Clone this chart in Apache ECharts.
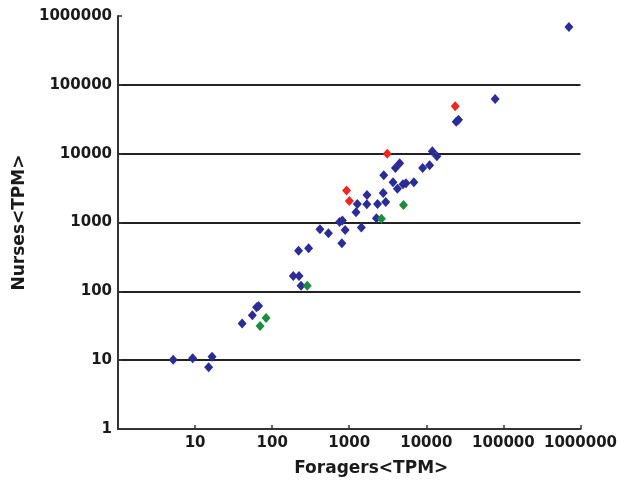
<!DOCTYPE html>
<html>
<head>
<meta charset="utf-8">
<script src="https://cdn.jsdelivr.net/npm/echarts@6/dist/echarts.min.js"></script>
<style>
html,body{margin:0;padding:0;background:#fff;}
#chart{width:620px;height:482px;}
</style>
</head>
<body>
<div id="chart"></div>
<script>
// Foragers TPM (x) and Nurses TPM (y)
var blueX = [5.2, 9.3, 16.6, 15.0, 40.8, 55.3, 62.8, 66.7, 188, 223, 237, 220, 297, 417, 537, 750, 815, 885, 802, 1435, 1225, 1274, 1691, 1700, 2330, 2973, 2761, 2255, 2806, 3700, 4218, 4980, 5447, 6890, 3972, 4515, 8960, 11040, 11970, 13710, 24440, 26170, 78200, 708000];
var blueY = [10.1, 10.7, 11.2, 7.9, 34.2, 45, 58.7, 61.4, 167, 167, 121, 389, 423, 800, 700, 1020, 1066, 776, 500, 849, 1412, 1863, 1845, 2518, 1850, 1980, 2673, 1156, 4872, 3855, 3100, 3605, 3725, 3855, 6180, 7280, 6180, 6760, 10800, 9140, 29000, 31000, 62000, 690000];
var redX = [923, 1003, 3111, 23700];
var redY = [2911, 2047, 10000, 49000];
var greenX = [83.4, 69.7, 285, 2617, 5056];
var greenY = [41.1, 31.4, 121, 1136, 1803];

var xTickLabels = ['', '10', '100', '1000', '10000', '100000', '1000000'];
var yTickLabels = ['1', '10', '100', '1000', '10000', '100000', '1000000'];
var xTitle = 'Foragers<TPM>';
var yTitle = 'Nurses<TPM>';

function pairs(xs, ys) { return xs.map(function (x, i) { return [x, ys[i]]; }); }
function labelFor(arr) {
  return function (v) {
    var k = Math.round(Math.log(v) / Math.LN10);
    return arr[k] !== undefined ? arr[k] : '';
  };
}

var labelFont = { fontFamily: 'DejaVu Sans', fontWeight: 'bold', fontSize: 15, color: '#1a1a1a' };
var chart = echarts.init(document.getElementById('chart'), null, { renderer: 'canvas' });
chart.setOption({
  animation: false,
  backgroundColor: '#ffffff',
  grid: { left: 118, right: 39, top: 16, bottom: 53, containLabel: false },
  xAxis: {
    type: 'log', logBase: 10, min: 1, max: 1000000,
    name: xTitle, nameLocation: 'middle', nameGap: 31,
    nameTextStyle: { fontFamily: 'DejaVu Sans', fontWeight: 'bold', fontSize: 17, color: '#1a1a1a', padding: [0, 0, 0, 44] },
    axisLine: { show: true, lineStyle: { color: '#333', width: 2 } },
    axisTick: { show: true, inside: true, length: 4, lineStyle: { color: '#333', width: 1.5 } },
    axisLabel: Object.assign({ margin: 7, formatter: labelFor(xTickLabels) }, labelFont),
    splitLine: { show: false },
    minorTick: { show: false }
  },
  yAxis: {
    type: 'log', logBase: 10, min: 1, max: 1000000,
    name: yTitle, nameLocation: 'middle', nameGap: 82, nameRotate: 90,
    nameTextStyle: { fontFamily: 'DejaVu Sans', fontWeight: 'bold', fontSize: 17, color: '#1a1a1a' },
    axisLine: { show: true, lineStyle: { color: '#333', width: 2 } },
    axisTick: { show: true, inside: true, length: 4, lineStyle: { color: '#333', width: 1.5 } },
    axisLabel: Object.assign({ margin: 6, formatter: labelFor(yTickLabels) }, labelFont),
    splitLine: { show: true, lineStyle: { color: ['transparent', '#222', '#222', '#222', '#222', '#222', 'transparent'], width: 2 } },
    minorTick: { show: false }
  },
  series: [
    { type: 'scatter', symbol: 'diamond', symbolSize: [9, 10], itemStyle: { color: '#2b2c96', opacity: 1 }, data: pairs(blueX, blueY), z: 3 },
    { type: 'scatter', symbol: 'diamond', symbolSize: [9, 10], itemStyle: { color: '#f0261f', opacity: 1 }, data: pairs(redX, redY), z: 4 },
    { type: 'scatter', symbol: 'diamond', symbolSize: [9, 10], itemStyle: { color: '#1e8c3a', opacity: 1 }, data: pairs(greenX, greenY), z: 4 }
  ]
});
</script>
</body>
</html>
